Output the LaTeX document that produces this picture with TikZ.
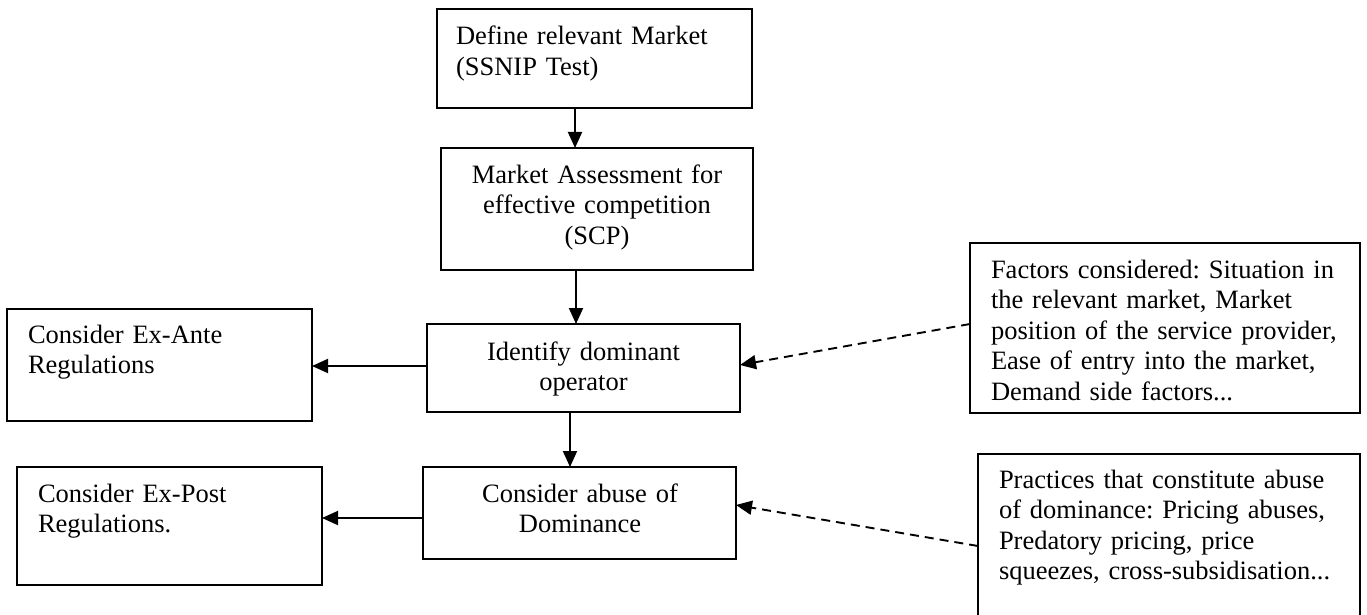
\documentclass[tikz,border=0pt]{standalone}
\usepackage{fontspec}
\setmainfont{Liberation Serif}
\usetikzlibrary{arrows.meta}
\frenchspacing
\begin{document}
\begin{tikzpicture}[x=1pt,y=-1pt,
  box/.style={draw,line width=1.6pt,inner sep=0pt,outer sep=0pt},
  txt/.style={inner sep=0pt,outer sep=0pt,font=\fontsize{26.5}{30.5}\selectfont},
  conn/.style={line width=1.9pt,-{Triangle[length=16pt,width=14pt]}},
  dconn/.style={conn,dash pattern=on 9pt off 6pt}]
\fill[white] (0,0) rectangle (1367,615);
\useasboundingbox (0,0) rectangle (1367,615);
% boxes
\node[box,minimum width=315pt,minimum height=99pt] (b1) at (594.5,58.5) {};
\node[box,minimum width=312pt,minimum height=122pt] (b2) at (597,209) {};
\node[box,minimum width=313pt,minimum height=88pt] (b3) at (583.5,368) {};
\node[box,minimum width=313pt,minimum height=92pt] (b4) at (579.5,513) {};
\node[box,minimum width=305pt,minimum height=112pt] (ea) at (159.5,365) {};
\node[box,minimum width=305pt,minimum height=118pt] (ep) at (169.5,526) {};
\node[box,minimum width=390pt,minimum height=170pt] (fa) at (1165,328) {};
\node[box,minimum width=382pt,minimum height=186pt] (pr) at (1169,547) {};
% texts
\node[txt,anchor=base west,text width=290pt,align=left] (t1) at (456,45) {Define relevant Market\\(SSNIP Test)};
\node[txt,anchor=base,text width=300pt,align=center] (t2) at (597,183) {Market Assessment for\\effective competition\\(SCP)};
\node[txt,anchor=base,text width=300pt,align=center] (t3) at (583.5,360) {Identify dominant\\operator};
\node[txt,anchor=base,text width=300pt,align=center] (t4) at (580,502) {Consider abuse of\\Dominance};
\node[txt,anchor=base west,text width=280pt,align=left] (t5) at (28,343) {Consider Ex-Ante\\Regulations};
\node[txt,anchor=base west,text width=280pt,align=left] (t6) at (38,502) {Consider Ex-Post\\Regulations.};
\node[txt,anchor=base west,text width=365pt,align=left] (t7) at (991,278) {Factors considered: Situation in\\the relevant market, Market\\position of the service provider,\\Ease of entry into the market,\\Demand side factors...};
\node[txt,anchor=base west,text width=360pt,align=left] (t8) at (999,488) {Practices that constitute abuse\\of dominance: Pricing abuses,\\Predatory pricing, price\\squeezes, cross-subsidisation...};
% connectors
\draw[conn] ([xshift=-19.5pt]b1.south) -- ([xshift=-22pt]b2.north);
\draw[conn] ([xshift=-21pt]b2.south) -- ([xshift=-7.5pt]b3.north);
\draw[conn] ([xshift=-13.5pt]b3.south) -- ([xshift=-9.5pt]b4.north);
\draw[conn] ([yshift=2pt]b3.west) -- ([yshift=2pt]b3.west -| ea.east);
\draw[conn] ([yshift=-5pt]b4.west) -- ([yshift=-5pt]b4.west -| ep.east);
\draw[dconn] ([yshift=4pt]fa.west) -- ([yshift=3pt]b3.east);
\draw[dconn] ([yshift=1pt]pr.west) -- ([yshift=8pt]b4.east);
\end{tikzpicture}
\end{document}
